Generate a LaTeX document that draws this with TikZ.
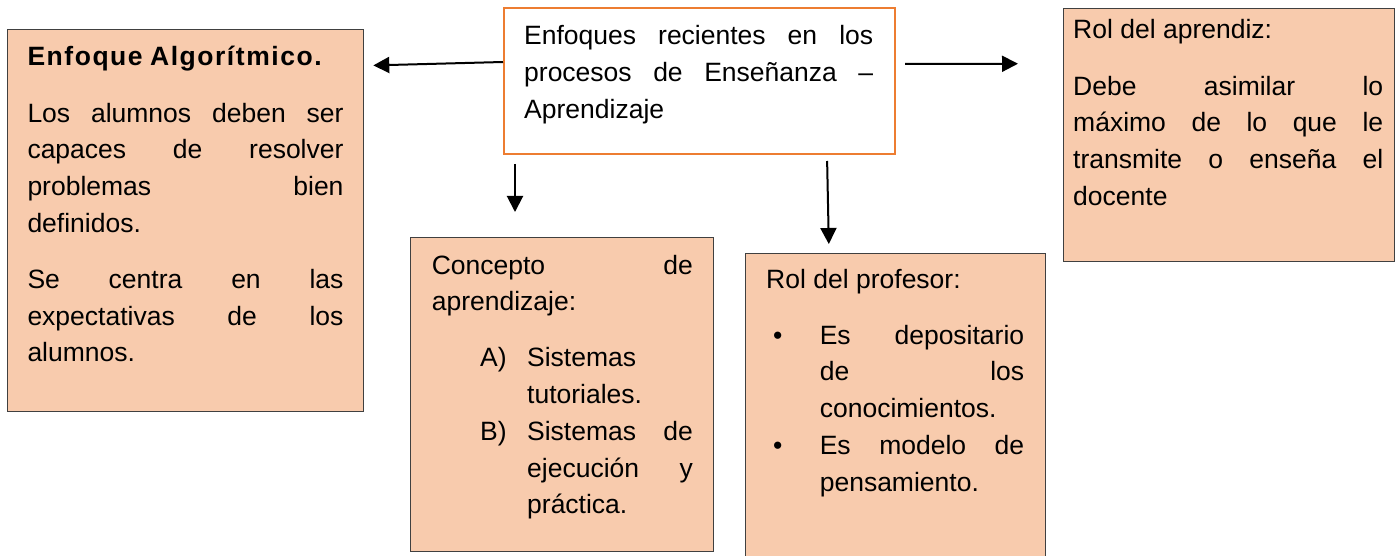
\documentclass[tikz,border=0pt]{standalone}
\usepackage{fontspec}
\setmainfont{Liberation Sans}
\usepackage{xcolor}
\usetikzlibrary{arrows.meta,positioning}
\definecolor{salmon}{HTML}{F8CBAD}
\definecolor{naranja}{HTML}{ED7D31}
\newcommand{\cajafont}{\fontsize{26.5}{36.7}\selectfont\setlength{\parskip}{19.5pt}%
  \spaceskip=7.4pt plus 4pt minus 1pt\xspaceskip=7.4pt plus 4pt minus 1pt}
\newcommand{\etiq}[2]{\leavevmode\llap{\makebox[#1][l]{#2}}}

\begin{document}
\begin{tikzpicture}[x=1pt, y=-1pt,
  caja/.style={draw=black!75, line width=1.3pt, fill=salmon,
    anchor=north west, inner sep=0pt},
  centrobox/.style={caja, draw=naranja, line width=2pt, fill=white},
  texto/.style={anchor=base west, inner sep=0pt},
  flecha/.style={-{Triangle[length=16pt, width=16pt]}, line width=2pt},
]
\useasboundingbox (0,0) rectangle (1395,556);
\clip (0,0) rectangle (1395,556);

% Boxes
\node[centrobox, minimum width=391pt, minimum height=146pt] (centro) at (503,7) {};
\node[caja, minimum width=356pt, minimum height=382pt] (algoritmo) at (7,29) {};
\node[caja, minimum width=303pt, minimum height=314pt] (concepto) at (410,237) {};
\node[caja, minimum width=300pt, minimum height=360pt] (profesor) at (745,253) {};
\node[caja, minimum width=331pt, minimum height=253pt] (aprendiz) at (1063,8) {};

% Texts (first baseline)
\node[texto, text width=349pt] (centro-txt) at (524,45) {\cajafont
  Enfoques\hfill recientes\hfill en\hfill los\\
  procesos\hfill de\hfill Enseñanza\hfill –\\
  Aprendizaje\par};

\node[texto, text width=316pt] (algoritmo-txt) at (27.3,66) {\cajafont
  {\bfseries\addfontfeatures{LetterSpace=5.8}Enfoque Algorítmico.}\par
  Los\hfill alumnos\hfill deben\hfill ser\\
  capaces\hfill de\hfill resolver\\
  problemas\hfill bien\\
  definidos.\par
  Se\hfill centra\hfill en\hfill las\\
  expectativas\hfill de\hfill los\\
  alumnos.\par};

\node[texto, text width=261pt] (concepto-txt) at (431.6,274) {\cajafont
  Concepto\hfill de\\
  aprendizaje:\par
  \leftskip=95.4pt
  \etiq{47pt}{A)}Sistemas\\
  tutoriales.\\
  \etiq{47pt}{B)}Sistemas\hfill de\\
  ejecución\hfill y\\
  práctica.\par};

\node[texto, text width=258pt] (profesor-txt) at (766,288) {\cajafont
  Rol del profesor:\par
  \leftskip=53.6pt
  \etiq{46.6pt}{•}Es\hfill depositario\\
  de\hfill los\\
  conocimientos.\\
  \etiq{46.6pt}{•}Es\hfill modelo\hfill de\\
  pensamiento.\par};

\node[texto, text width=310pt] (aprendiz-txt) at (1073,39) {\cajafont
  Rol del aprendiz:\par
  Debe\hfill asimilar\hfill lo\\
  máximo\hfill de\hfill lo\hfill que\hfill le\\
  transmite\hfill o\hfill enseña\hfill el\\
  docente\par};

% Connectors
\draw[flecha, shorten >=9pt] ([yshift=19pt]centro.west) -- ([yshift=155pt]algoritmo.east);
\draw[flecha, shorten <=9pt, shorten >=45pt] ([yshift=17pt]centro.east) -- ([yshift=71.5pt]aprendiz.west);
\draw[flecha, shorten <=9pt, shorten >=25pt] ([xshift=12pt]centro.south west) -- ([xshift=105pt]concepto.north west);
\draw[flecha, shorten <=6pt, shorten >=9pt] ([xshift=-69pt]centro.south east) -- ([xshift=84pt]profesor.north west);

\end{tikzpicture}
\end{document}
